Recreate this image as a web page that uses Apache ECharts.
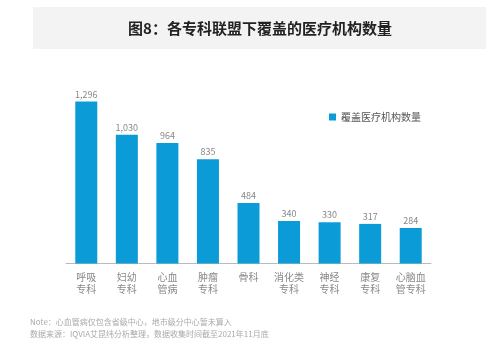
<!DOCTYPE html>
<html><head><meta charset="utf-8">
<script src="https://cdn.jsdelivr.net/npm/echarts@6/dist/echarts.min.js"></script>
<style>html,body{margin:0;padding:0;background:#fff}#c{width:502px;height:351px}</style>
</head><body><div id="c"></div>
<script>
const titleText = '图8：各专科联盟下覆盖的医疗机构数量';
const categories = ['呼吸\n专科','妇幼\n专科','心血\n管病','肿瘤\n专科','骨科','消化类\n专科','神经\n专科','康复\n专科','心脑血\n管专科'];
const seriesName = '覆盖医疗机构数量';
const values = [1296, 1030, 964, 835, 484, 340, 330, 317, 284];
const notes = ['Note：心血管病仅包含省级中心，地市级分中心暂未算入','数据来源：IQVIA艾昆纬分析整理，数据收集时间截至2021年11月底'];

const font = '"Noto Sans CJK SC", "Noto Sans", sans-serif';
const chart = echarts.init(document.getElementById('c'));
chart.setOption({
  animation: false,
  textStyle: {fontFamily: font},
  graphic: [
    {type:'rect', shape:{x:33,y:7,width:453,height:42}, style:{fill:'#f3f3f3'}},
    {type:'text', x:260, y:28, style:{text:titleText, fontSize:15, fontWeight:'bold', fill:'#222', align:'center', verticalAlign:'middle', fontFamily:font}},
    {type:'text', x:30, y:322, style:{text:notes[0], fontSize:8, fill:'#aaa', verticalAlign:'middle', fontFamily:font}},
    {type:'text', x:30, y:334, style:{text:notes[1], fontSize:8, fill:'#aaa', verticalAlign:'middle', fontFamily:font}}
  ],
  legend: {
    data:[seriesName], left:324, top:107, itemWidth:7, itemHeight:7, itemGap:5,
    textStyle:{fontSize:10, color:'#555', fontFamily:font}, icon:'rect'
  },
  grid: {left:66, right:71, top:88.6, bottom:87.5},
  xAxis: {
    type:'category', data:categories,
    axisLine:{lineStyle:{color:'#bbb', width:1}},
    axisTick:{show:false},
    axisLabel:{color:'#888', fontSize:10, lineHeight:12, margin:8, interval:0, fontFamily:font}
  },
  yAxis: {type:'value', min:0, max:1400, show:false, splitLine:{show:false}},
  series: [{
    name: seriesName, type:'bar', data: values, barWidth:22,
    itemStyle:{color:'#0b9bd7'},
    label:{show:true, position:'top', distance:3, color:'#888', fontSize:9,
      formatter: p => p.value.toLocaleString('en-US')}
  }]
});
</script></body></html>
